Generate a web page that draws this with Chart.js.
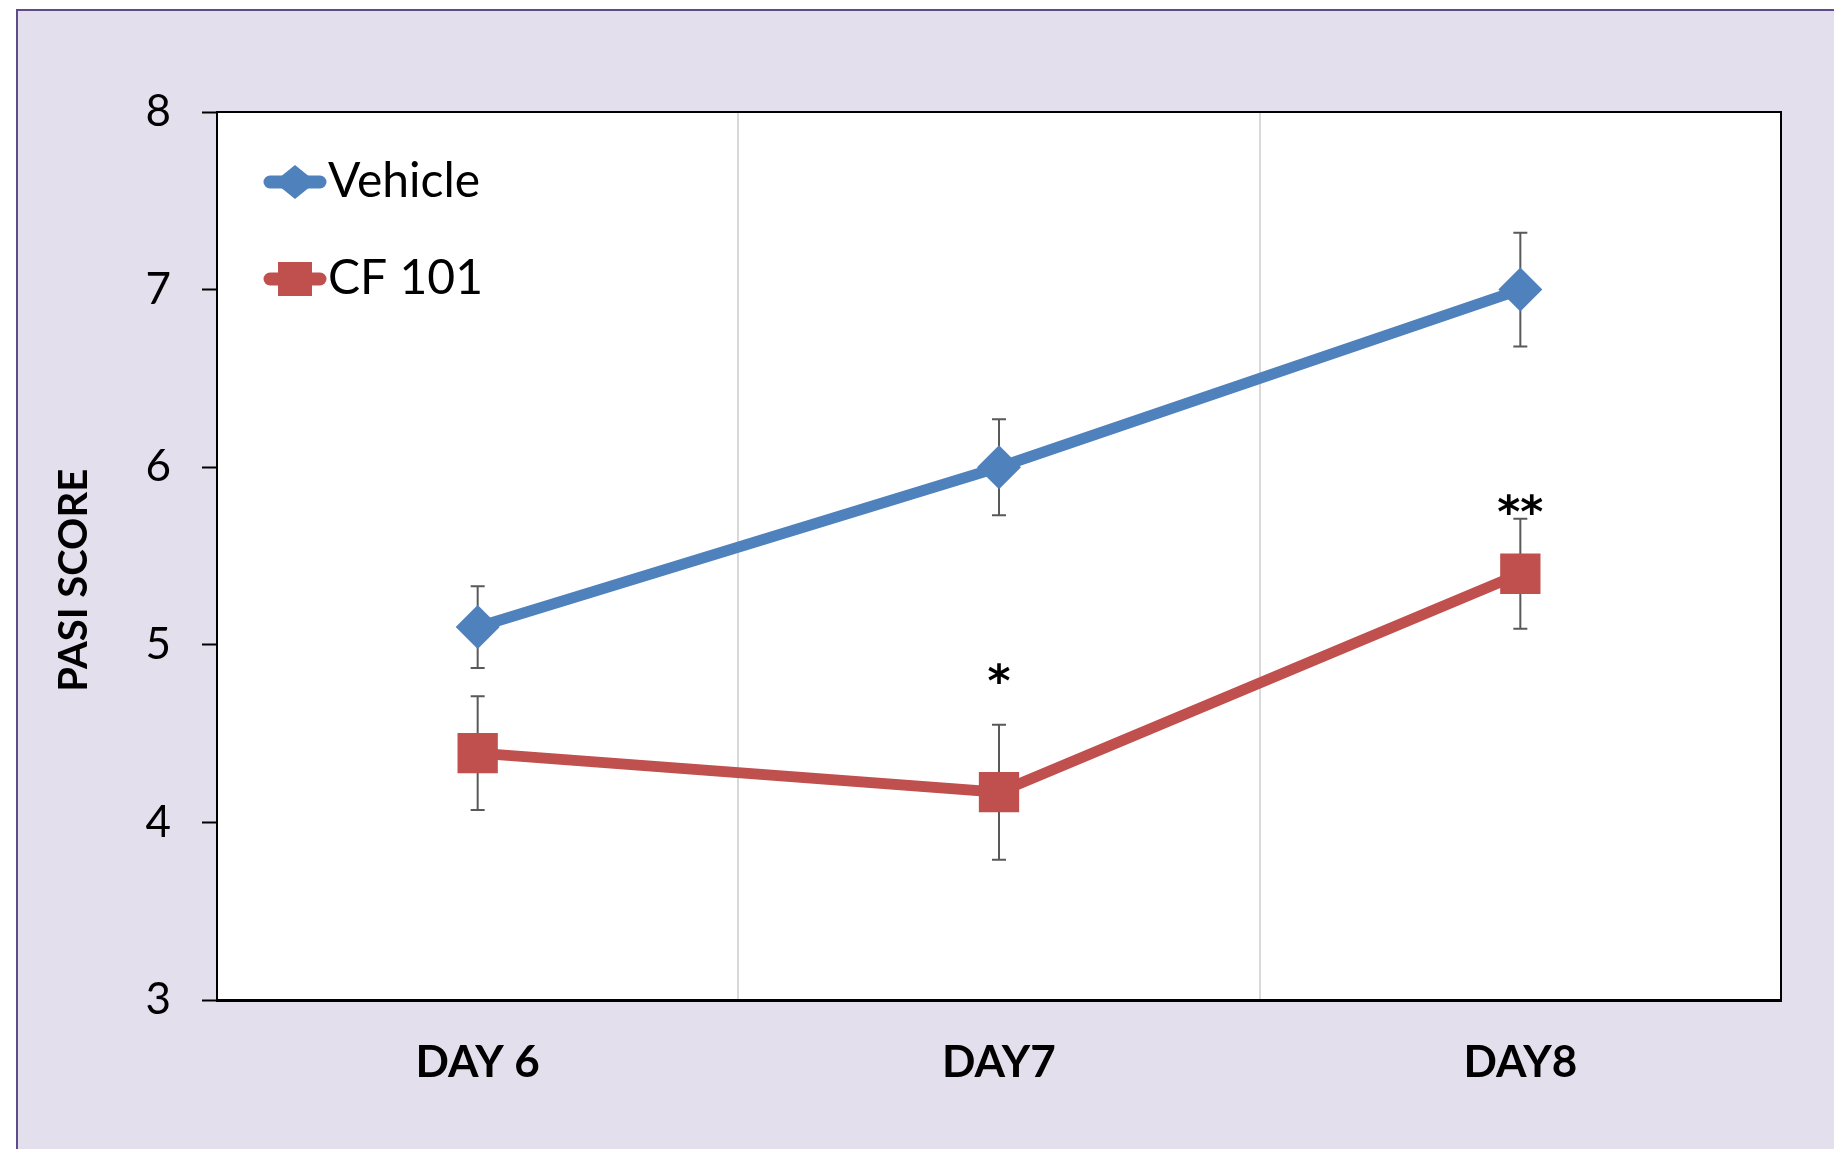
<!DOCTYPE html>
<html>
<head>
<meta charset="utf-8">
<script src="https://cdn.jsdelivr.net/npm/chart.js@4.4.0/dist/chart.umd.min.js"></script>
<style>
    body { margin: 0; background: #fff; }
    #frame { position: absolute; left: 16px; top: 9px; right: 0; bottom: 0; background: #e4dfec; border-top: 2px solid #5f4b8b; border-left: 2px solid #5f4b8b; }
    #wrap { position: absolute; left: 0; top: 0; width: 1834px; height: 1149px; }
</style>
</head>
<body>
<div id="frame"></div>
<div id="wrap"><canvas id="chart" width="1834" height="1149"></canvas></div>
<script>
// Chart data
const days = ['DAY 6', 'DAY7', 'DAY8'];
const vehicle = [5.1, 6.0, 7.0];
const vehicleErr = [0.23, 0.27, 0.32];
const cf101 = [4.39, 4.17, 5.4];
const cf101Err = [0.32, 0.38, 0.31];
const stars = ['', '*', '**'];
const starPos = [null, 4.82, 5.77];
const yTicks = [3, 4, 5, 6, 7, 8];

const blue = '#4f81bd';
const red = '#c0504d';
const fontName = 'Lato';

// Legend icon: thick line with the marker in the middle
function legendIcon(color, shape) {
    let c = document.createElement('canvas');
    c.width = 84;
    c.height = 44;
    let ctx = c.getContext('2d');
    ctx.strokeStyle = color;
    ctx.fillStyle = color;
    ctx.lineWidth = 13;
    ctx.lineCap = 'round';
    ctx.beginPath();
    ctx.moveTo(27, 22);
    ctx.lineTo(77, 22);
    ctx.stroke();
    if (shape == 'diamond') {
        ctx.beginPath();
        ctx.moveTo(31, 22);
        ctx.lineTo(52, 5);
        ctx.lineTo(73, 22);
        ctx.lineTo(52, 39);
        ctx.closePath();
        ctx.fill();
    } else {
        ctx.fillRect(35, 5, 34, 34);
    }
    return c;
}
const icons = [legendIcon(blue, 'diamond'), legendIcon(red, 'square')];

const plotFrame = {
    id: 'plotFrame',
    beforeDraw(chart) {
        const a = chart.chartArea, ctx = chart.ctx;
        ctx.save();
        ctx.fillStyle = '#fff';
        ctx.fillRect(a.left, a.top, a.right - a.left, a.bottom - a.top);
        ctx.restore();
    },
    beforeDatasetsDraw(chart) {
        const a = chart.chartArea, ctx = chart.ctx;
        ctx.save();
        ctx.strokeStyle = '#000';
        ctx.lineWidth = 2;
        ctx.beginPath();
        ctx.moveTo(a.left, a.top);
        ctx.lineTo(a.right, a.top);
        ctx.lineTo(a.right, a.bottom);
        ctx.stroke();
        ctx.restore();
    }
};

const errorBars = {
    id: 'errorBars',
    beforeDatasetsDraw(chart) {
        const ctx = chart.ctx, xs = chart.scales.x, ys = chart.scales.y;
        ctx.save();
        ctx.strokeStyle = '#595959';
        ctx.lineWidth = 2;
        [[vehicle, vehicleErr], [cf101, cf101Err]].forEach(([vals, errs]) => {
            vals.forEach((v, i) => {
                let px = xs.getPixelForValue(i);
                let top = ys.getPixelForValue(v + errs[i]);
                let bot = ys.getPixelForValue(v - errs[i]);
                ctx.beginPath();
                ctx.moveTo(px, top); ctx.lineTo(px, bot);
                ctx.moveTo(px - 7, top); ctx.lineTo(px + 7, top);
                ctx.moveTo(px - 7, bot); ctx.lineTo(px + 7, bot);
                ctx.stroke();
            });
        });
        ctx.restore();
    }
};

// Significance marks above the CF 101 points
const starLabels = {
    id: 'starLabels',
    afterDatasetsDraw(chart) {
        const ctx = chart.ctx, xs = chart.scales.x, ys = chart.scales.y;
        ctx.save();
        ctx.fillStyle = '#000';
        ctx.font = 'bold 44px "DejaVu Sans"';
        ctx.textAlign = 'center';
        ctx.textBaseline = 'middle';
        for (let i = 0; i < stars.length; i++) {
            if (!stars[i]) continue;
            ctx.fillText(stars[i], xs.getPixelForValue(i), ys.getPixelForValue(starPos[i]) + 8);
        }
        ctx.restore();
    }
};

new Chart(document.getElementById('chart'), {
    type: 'line',
    data: {
        labels: days,
        datasets: [
            {
                label: 'Vehicle',
                data: vehicle,
                borderColor: blue,
                backgroundColor: blue,
                borderWidth: 11,
                pointStyle: 'rectRot',
                pointRadius: 22,
                pointBorderWidth: 0,
                pointBackgroundColor: blue,
                tension: 0
            },
            {
                label: 'CF 101',
                data: cf101,
                borderColor: red,
                backgroundColor: red,
                borderWidth: 11,
                pointStyle: 'rect',
                pointRadius: 28.5,
                pointBorderWidth: 0,
                pointBackgroundColor: red,
                tension: 0
            }
        ]
    },
    options: {
        responsive: false,
        animation: false,
        events: [],
        layout: {
            padding: { top: 112, right: 53, left: 0, bottom: 0 }
        },
        scales: {
            x: {
                type: 'category',
                offset: true,
                afterFit: scale => { scale.height = 149; },
                grid: {
                    offset: true,
                    color: '#d9d9d9',
                    lineWidth: 2,
                    drawTicks: false
                },
                border: { color: '#000', width: 3 },
                ticks: {
                    color: '#000',
                    padding: 36,
                    font: { family: fontName, size: 44, weight: 'bold' }
                }
            },
            y: {
                min: 3,
                max: 8,
                afterFit: scale => { scale.width = 217; },
                afterBuildTicks: scale => { scale.ticks = yTicks.map(v => ({ value: v })); },
                grid: {
                    drawOnChartArea: false,
                    drawTicks: true,
                    tickLength: 15,
                    tickColor: '#000',
                    tickWidth: 2
                },
                border: { color: '#000', width: 2 },
                ticks: {
                    color: '#000',
                    padding: 31,
                    font: { family: fontName, size: 44 }
                },
                title: {
                    display: true,
                    text: 'PASI SCORE     ',
                    color: '#000',
                    padding: { top: 50, bottom: 0 },
                    font: { family: fontName, size: 40, weight: 'bold' }
                }
            }
        },
        plugins: {
            tooltip: { enabled: false },
            legend: {
                position: 'chartArea',
                align: 'start',
                title: {
                    display: true,
                    text: ' ',
                    padding: { top: 97, bottom: 0 },
                    font: { size: 10 }
                },
                labels: {
                    usePointStyle: true,
                    pointStyleWidth: 38,
                    padding: 49,
                    color: '#000',
                    font: { family: fontName, size: 48 },
                    generateLabels: chart => chart.data.datasets.map((ds, i) => ({
                        text: ds.label,
                        pointStyle: icons[i],
                        fillStyle: ds.borderColor,
                        strokeStyle: ds.borderColor,
                        lineWidth: 0,
                        hidden: false,
                        datasetIndex: i,
                        fontColor: '#000'
                    }))
                }
            }
        }
    },
    plugins: [plotFrame, errorBars, starLabels]
});
</script>
</body>
</html>
